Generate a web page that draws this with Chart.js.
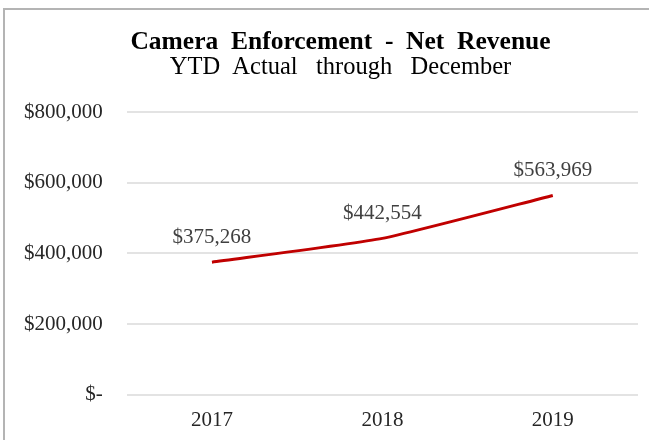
<!DOCTYPE html>
<html>
<head>
<meta charset="utf-8">
<title>Camera Enforcement - Net Revenue</title>
<script src="https://cdn.jsdelivr.net/npm/chart.js@4/dist/chart.umd.min.js"></script>
<style>
  html, body {
    margin: 0;
    padding: 0;
    background: #ffffff;
    overflow: hidden;
  }
  #chart-frame {
    position: absolute;
    left: 3px;
    top: 8px;
    width: 676px;
    height: 450px;
    border: 2px solid #b4b4b4;
    background: #ffffff;
  }
  #revenue-chart {
    display: block;
  }
</style>
</head>
<body>
<div id="chart-frame">
  <canvas id="revenue-chart" width="676" height="444"></canvas>
</div>
<script>
const years = ['2017', '2018', '2019'];
const netRevenue = [375268, 442554, 563969];
const axisTicks = [0, 200000, 400000, 600000, 800000];

const SERIF = "'Liberation Serif', 'Times New Roman', serif";

function formatDollars(value) {
  if (value === 0) {
    return '$-';
  }
  return '$' + Number(value).toLocaleString('en-US');
}

// writes the dollar amount above each point on the line
const pointLabels = {
  id: 'pointLabels',
  afterDatasetsDraw(chart) {
    const { ctx } = chart;
    const meta = chart.getDatasetMeta(0);
    ctx.save();
    ctx.font = `21px ${SERIF}`;
    ctx.fillStyle = '#404040';
    ctx.textAlign = 'center';
    ctx.textBaseline = 'middle';
    meta.data.forEach((point, index) => {
      const value = chart.data.datasets[0].data[index];
      ctx.fillText(formatDollars(value), point.x, point.y - 25);
    });
    ctx.restore();
  },
};

const revenueCanvas = document.getElementById('revenue-chart');

new Chart(revenueCanvas, {
  type: 'line',
  data: {
    labels: years,
    datasets: [
      {
        label: 'Net Revenue',
        data: netRevenue,
        borderColor: '#c00000',
        borderWidth: 3,
        pointRadius: 0,
        pointHoverRadius: 0,
        tension: 0.15,
        fill: false,
      },
    ],
  },
  options: {
    responsive: false,
    animation: false,
    devicePixelRatio: 1,
    layout: {
      padding: { top: 8, left: -5, right: 0, bottom: 8 },
    },
    plugins: {
      legend: { display: false },
      tooltip: { enabled: false },
      title: {
        display: true,
        text: 'Camera  Enforcement  -  Net  Revenue',
        color: '#000000',
        font: { family: SERIF, size: 25.5, weight: 'bold', lineHeight: 1 },
        padding: { top: 12, bottom: 0 },
      },
      subtitle: {
        display: true,
        text: 'YTD  Actual   through   December',
        color: '#000000',
        font: { family: SERIF, size: 24.5, lineHeight: 1 },
        padding: { top: 0, bottom: 32 },
      },
    },
    scales: {
      x: {
        offset: true,
        grid: { display: false, drawTicks: false },
        border: { display: false },
        ticks: {
          color: '#262626',
          font: { family: SERIF, size: 21 },
          padding: 13,
        },
      },
      y: {
        min: 0,
        max: 800000,
        afterBuildTicks(axis) {
          axis.ticks = axisTicks.map((value) => ({ value }));
        },
        grid: {
          color: '#e3e3e3',
          lineWidth: 2,
          drawTicks: false,
        },
        border: { display: false },
        ticks: {
          color: '#262626',
          font: { family: SERIF, size: 21 },
          padding: 24,
          callback: (value) => formatDollars(value),
        },
      },
      // empty right-hand margin so the plot stops short of the frame edge
      rightMargin: {
        type: 'linear',
        position: 'right',
        grid: { display: false, drawTicks: false },
        border: { display: false },
        ticks: { display: false },
        afterFit(scale) {
          scale.width = 43;
        },
      },
    },
  },
  plugins: [pointLabels],
});
</script>
</body>
</html>
